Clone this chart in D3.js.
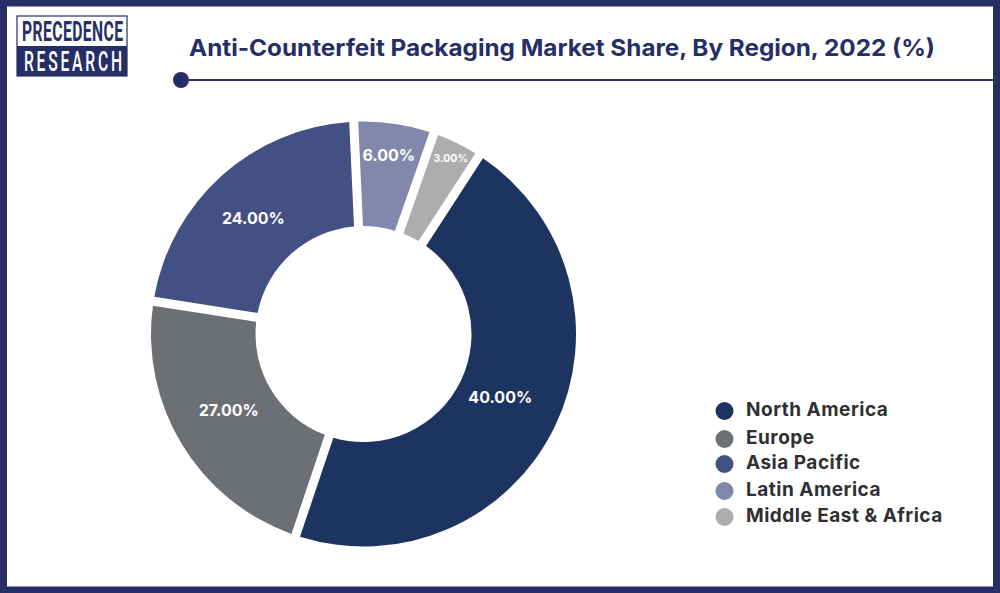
<!DOCTYPE html>
<html>
<head>
<meta charset="utf-8">
<script src="https://cdn.jsdelivr.net/npm/d3@7"></script>
<style>
  html, body { margin: 0; padding: 0; background: #fff; }
  svg { display: block; }
  text { font-family: Inter, "Noto Sans", sans-serif; font-weight: 700; }
</style>
</head>
<body>
<div id="chart"></div>
<script>
// data
var regions = ["North America", "Europe", "Asia Pacific", "Latin America", "Middle East & Africa"];
var labels = ["40.00%", "27.00%", "24.00%", "6.00%", "3.00%"];
// the slices in the picture are not drawn to their printed labels, these are the shares as drawn
var drawnShares = [46.0, 22.3, 21.8, 6.1, 3.8];
var colors = ["#1d3461", "#6c7075", "#435084", "#8188ab", "#adadad"];

var width = 1000, height = 593;
var navy = "#262e66";

var svg = d3.select("#chart").append("svg")
    .attr("width", width)
    .attr("height", height);

// frame
svg.append("rect")
    .attr("x", 3.5).attr("y", 3)
    .attr("width", 993).attr("height", 587)
    .attr("fill", "none")
    .attr("stroke", navy)
    .attr("stroke-width", 7);

// logo
var logo = svg.append("g");
logo.append("rect")
    .attr("x", 17).attr("y", 16).attr("width", 110).attr("height", 60)
    .attr("fill", "#fff").attr("stroke", navy).attr("stroke-width", 1.2);
logo.append("rect")
    .attr("x", 17).attr("y", 46).attr("width", 110).attr("height", 30)
    .attr("fill", navy);

// narrow tall lettering, squeezed sideways then spaced out
function logoText(str, x, y, w, color, weight) {
    var squeeze = 0.58;
    logo.append("text")
        .attr("transform", "translate(" + x + "," + y + ") scale(" + squeeze + ",1)")
        .attr("textLength", w / squeeze)
        .attr("lengthAdjust", "spacing")
        .style("font-family", "Roboto")
        .style("font-size", "27px")
        .style("font-weight", weight)
        .attr("fill", color)
        .text(str);
}
logoText("PRECEDENCE", 22, 41, 101, navy, 700);
logoText("RESEARCH", 24, 71, 98, "#fff", 500);

// title
svg.append("text")
    .attr("x", 189).attr("y", 56)
    .attr("textLength", 746).attr("lengthAdjust", "spacingAndGlyphs")
    .style("font-size", "23px")
    .attr("fill", navy)
    .text("Anti-Counterfeit Packaging Market Share, By Region, 2022 (%)");

svg.append("line")
    .attr("x1", 181).attr("x2", 995)
    .attr("y1", 80).attr("y2", 80)
    .attr("stroke", navy).attr("stroke-width", 2);
svg.append("circle")
    .attr("cx", 181).attr("cy", 80).attr("r", 8)
    .attr("fill", navy);

// donut
var cx = 363.5, cy = 334, outerR = 212.5, innerR = 108;
var startDeg = 33;

var pie = d3.pie()
    .sort(null)
    .startAngle(startDeg * Math.PI / 180)
    .endAngle((startDeg + 360) * Math.PI / 180);

var arc = d3.arc()
    .innerRadius(innerR)
    .outerRadius(outerR)
    .padRadius(outerR)
    .padAngle(9 / outerR);

var slices = pie(drawnShares);

var donut = svg.append("g")
    .attr("transform", "translate(" + cx + "," + cy + ")");

donut.selectAll("path")
    .data(slices)
    .enter().append("path")
    .attr("d", arc)
    .attr("fill", function(d, i) { return colors[i]; });

// the two thin slices keep their labels further out
function labelRadius(d) {
    if (d.value < 5) return 198;
    if (d.value < 10) return 181;
    return 153;
}
// labels in the picture sit a little off the slice centre
var labelShift = [[-1, -3], [-4, -3], [-8, -2], [-1, 0], [0, 2]];

donut.selectAll("text")
    .data(slices)
    .enter().append("text")
    .attr("transform", function(d, i) {
        var r = labelRadius(d);
        var c = d3.arc().innerRadius(r).outerRadius(r).centroid(d);
        return "translate(" + (c[0] + labelShift[i][0]) + "," + (c[1] + labelShift[i][1]) + ")";
    })
    .attr("text-anchor", "middle")
    .attr("dy", "0.36em")
    .attr("fill", "#fff")
    .style("font-size", function(d) { return d.value < 5 ? "10.5px" : "16px"; })
    .text(function(d, i) { return labels[i]; });

// legend
var legendRows = [410, 438, 463, 490, 516];

var legend = svg.append("g");
var rows = legend.selectAll("g")
    .data(regions)
    .enter().append("g")
    .attr("transform", function(d, i) { return "translate(0," + legendRows[i] + ")"; });

rows.append("circle")
    .attr("cx", 724.5).attr("cy", 1)
    .attr("r", 9)
    .attr("fill", function(d, i) { return colors[i]; });

rows.append("text")
    .attr("x", 746).attr("y", 6)
    .style("font-size", "19px")
    .style("letter-spacing", "0.5px")
    .attr("fill", "#2f3033")
    .text(function(d) { return d; });
</script>
</body>
</html>
